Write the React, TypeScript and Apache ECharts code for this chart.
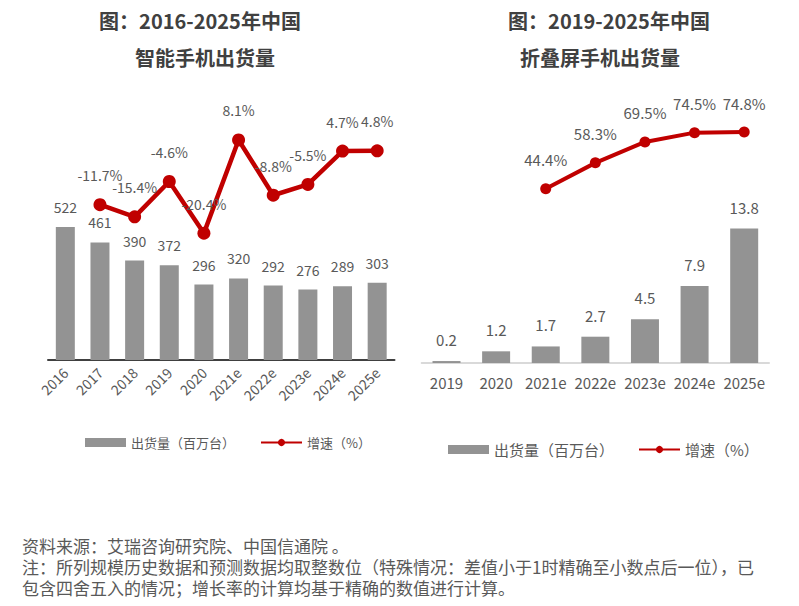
import React, { useEffect, useRef } from "react";
import * as echarts from "echarts";

const leftCategories = ["2016", "2017", "2018", "2019", "2020", "2021e", "2022e", "2023e", "2024e", "2025e"];
const leftShipments = [522, 461, 390, 372, 296, 320, 292, 276, 289, 303];
const leftGrowth: (number | string)[] = ["-", -11.7, -15.4, -4.6, -20.4, 8.1, -8.8, -5.5, 4.7, 4.8];

const rightCategories = ["2019", "2020", "2021e", "2022e", "2023e", "2024e", "2025e"];
const rightShipments = [0.2, 1.2, 1.7, 2.7, 4.5, 7.9, 13.8];
const rightGrowth: (number | string)[] = ["-", "-", 44.4, 58.3, 69.5, 74.5, 74.8];

const barName = "出货量（百万台）";
const lineName = "增速（%）";

const footnoteLines = [
  "资料来源：艾瑞咨询研究院、中国信通院 。",
  "注：所列规模历史数据和预测数据均取整数位（特殊情况：差值小于1时精确至小数点后一位），已",
  "包含四舍五入的情况；增长率的计算均基于精确的数值进行计算。",
];

const FONT = "'Noto Sans CJK SC', 'Noto Sans', sans-serif";
const TEXT = "#595959";
const BAR = "#939393";
const RED = "#C00000";
const TITLE = "#404040";

function titleText(x: number, y: number, text: string) {
  return {
    type: "text",
    style: {
      x,
      y,
      text,
      align: "center",
      verticalAlign: "middle",
      fontSize: 20,
      fontWeight: "bold",
      fill: TITLE,
      fontFamily: FONT,
    },
  };
}

function footText(y: number, text: string) {
  return {
    type: "text",
    style: {
      x: 22,
      y,
      text,
      verticalAlign: "middle",
      fontSize: 17,
      fill: TEXT,
      fontFamily: FONT,
    },
  };
}

export default function App() {
  const ref = useRef<HTMLDivElement>(null);
  useEffect(() => {
    document.body.style.margin = "0";
    const chart = echarts.init(ref.current!, null, { renderer: "svg" });
    chart.setOption({
      animation: false,
      backgroundColor: "#ffffff",
      textStyle: { fontFamily: FONT },
      grid: [
        { left: 48, right: 404.5, top: 105, bottom: 246 },
        { left: 421.7, right: 30, top: 100, bottom: 243 },
      ],
      xAxis: [
        {
          gridIndex: 0,
          type: "category",
          data: leftCategories,
          axisLine: { lineStyle: { color: "#404040", width: 2 } },
          axisTick: { show: false },
          axisLabel: { interval: 0, rotate: 45, color: TEXT, fontSize: 14, margin: 10, fontFamily: FONT },
        },
        {
          gridIndex: 1,
          type: "category",
          data: rightCategories,
          axisLine: { lineStyle: { color: "#d9d9d9", width: 2 } },
          axisTick: { show: false },
          axisLabel: { interval: 0, color: TEXT, fontSize: 15, margin: 12, fontFamily: FONT },
        },
      ],
      yAxis: [
        { gridIndex: 0, type: "value", min: 0, max: 1000, show: false, splitLine: { show: false } },
        { gridIndex: 0, type: "value", min: -59.2, max: 18.8, show: false, splitLine: { show: false } },
        { gridIndex: 1, type: "value", min: 0, max: 27, show: false, splitLine: { show: false } },
        { gridIndex: 1, type: "value", min: -49, max: 92, show: false, splitLine: { show: false } },
      ],
      legend: [
        {
          left: 80,
          top: 431,
          itemWidth: 41,
          itemHeight: 9,
          itemGap: 25,
          textStyle: { color: TEXT, fontSize: 13, fontFamily: FONT },
          data: [{ name: barName, icon: "rect" }, { name: lineName }],
        },
        {
          left: 443,
          top: 437,
          itemWidth: 41,
          itemHeight: 9,
          itemGap: 24,
          textStyle: { color: TEXT, fontSize: 15, fontFamily: FONT },
          data: [{ name: barName, icon: "rect" }, { name: lineName }],
        },
      ],
      series: [
        {
          name: barName,
          type: "bar",
          xAxisIndex: 0,
          yAxisIndex: 0,
          data: leftShipments,
          barWidth: 19,
          itemStyle: { color: BAR },
          label: { show: true, position: "top", distance: 13, color: TEXT, fontSize: 14, fontFamily: FONT },
        },
        {
          name: lineName,
          type: "line",
          xAxisIndex: 0,
          yAxisIndex: 1,
          data: leftGrowth,
          symbol: "circle",
          symbolSize: 13,
          lineStyle: { color: RED, width: 4.5 },
          itemStyle: { color: RED },
          label: {
            show: true,
            position: "top",
            distance: 16,
            color: TEXT,
            fontSize: 14,
            fontFamily: FONT,
            formatter: (p: any) => p.value + "%",
          },
        },
        {
          name: barName,
          type: "bar",
          xAxisIndex: 1,
          yAxisIndex: 2,
          data: rightShipments,
          barWidth: 28,
          itemStyle: { color: BAR },
          label: { show: true, position: "top", distance: 14, color: TEXT, fontSize: 15, fontFamily: FONT },
        },
        {
          name: lineName,
          type: "line",
          xAxisIndex: 1,
          yAxisIndex: 3,
          data: rightGrowth,
          symbol: "circle",
          symbolSize: 11,
          lineStyle: { color: RED, width: 4 },
          itemStyle: { color: RED },
          label: {
            show: true,
            position: "top",
            distance: 16,
            color: TEXT,
            fontSize: 15,
            fontFamily: FONT,
            formatter: (p: any) => p.value + "%",
          },
        },
      ],
      graphic: [
        titleText(200, 20, "图：2016-2025年中国"),
        titleText(205, 57, "智能手机出货量"),
        titleText(609, 20, "图：2019-2025年中国"),
        titleText(600, 57, "折叠屏手机出货量"),
        footText(545, footnoteLines[0]),
        footText(566, footnoteLines[1]),
        footText(587, footnoteLines[2]),
      ],
    });
    return () => chart.dispose();
  }, []);
  return <div ref={ref} style={{ width: 799, height: 606 }} />;
}
